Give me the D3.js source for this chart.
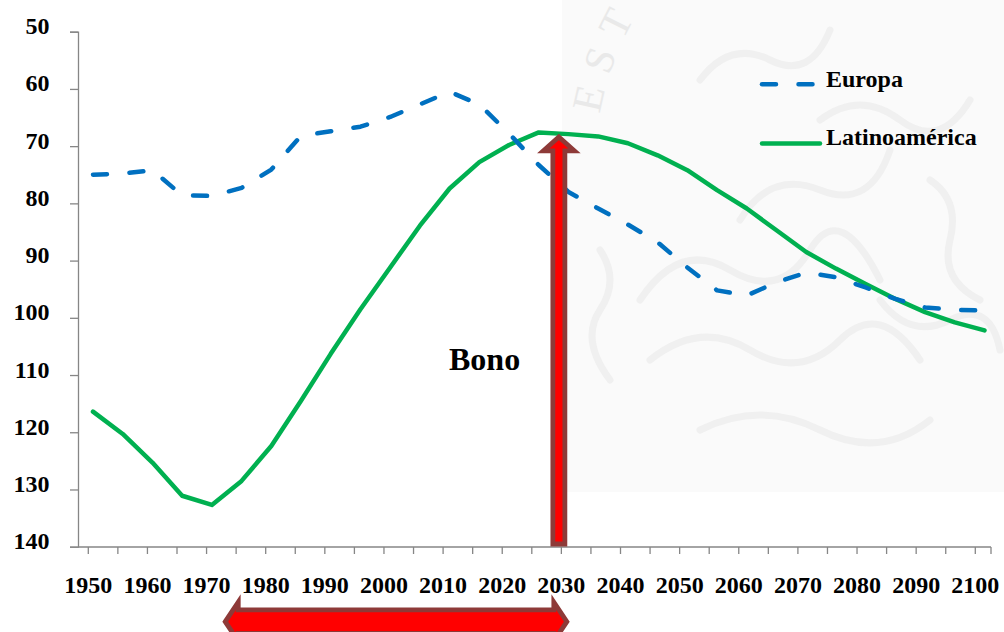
<!DOCTYPE html>
<html>
<head>
<meta charset="utf-8">
<script src="https://cdn.jsdelivr.net/npm/d3@7/dist/d3.min.js"></script>
<style>
  html, body { margin: 0; padding: 0; background: #ffffff; }
  svg { display: block; }
  text.lbl { font-family: "Liberation Serif", "Times New Roman", serif; font-weight: bold; fill: #000; }
</style>
</head>
<body>
<svg id="chart" width="1004" height="632"></svg>
<script>
// ---- data ----
const years = [1950,1955,1960,1965,1970,1975,1980,1985,1990,1995,2000,2005,2010,2015,2020,2025,2030,2035,2040,2045,2050,2055,2060,2065,2070,2075,2080,2085,2090,2095,2100];
const europa = [75.0,74.8,74.2,78.6,78.7,77.3,74.1,68.2,67.4,66.6,64.9,62.7,60.5,62.7,67.8,73.3,78.0,80.9,83.7,86.8,91.2,95.2,96.1,93.8,92.1,92.9,94.7,96.7,98.2,98.6,98.7];
const latinoamerica = [116.4,120.3,125.3,131.1,132.7,128.5,122.4,114.5,106.3,98.5,91.2,83.9,77.4,72.8,69.8,67.6,67.9,68.3,69.5,71.6,74.2,77.7,80.9,84.7,88.5,91.4,94.1,96.7,99.0,100.8,102.2];
const xTickLabels = ["1950","1960","1970","1980","1990","2000","2010","2020","2030","2040","2050","2060","2070","2080","2090","2100"];
const yTickValues = [50,60,70,80,90,100,110,120,130,140];
const seriesNames = ["Europa","Latinoamérica"];
const annotationText = "Bono";
const bonoYear = 2030;
const bonoRange = [1972.6, 2031.5];
const watermarkLetters = ["E","S","T"];

// ---- layout ----
const svg = d3.select("#chart");
const AXIS = "#868686";
const BLUE = "#0070C0";
const GREEN = "#00B050";
const ARROW_FILL = "#FF0000";
const ARROW_EDGE = "#8E3A38";

const y = d3.scaleLinear().domain([50, 140]).range([31.7, 546.7]);
const xData = d3.scaleLinear().domain([1950, 2100]).range([93, 984.5]);
const xAxisS = d3.scaleLinear().domain([1950, 2100]).range([88.3, 975.3]);

// ---- watermark panel ----
const wm = svg.append("g");
wm.append("rect").attr("x", 562).attr("y", 0).attr("width", 442).attr("height", 492).attr("fill", "#fafafa");
const orn = [
  "M 640 300 q 40 -60 90 -30 t 80 -20 t 70 30",
  "M 650 360 q 50 -40 100 -10 t 90 -10 t 80 20",
  "M 700 430 q 60 -30 120 0 t 110 -10",
  "M 740 220 q 30 -50 80 -30 t 70 -40",
  "M 820 120 q 40 -30 80 0 t 70 -20",
  "M 880 300 q 30 40 70 20 t 50 30",
  "M 700 80 q 30 -40 70 -20 t 60 -30",
  "M 600 250 q 20 30 0 60 t 10 70",
  "M 930 180 q 30 20 20 60 t 30 60"
];
wm.selectAll("path.orn").data(orn).enter().append("path")
  .attr("class", "orn").attr("d", d => d)
  .attr("fill", "none").attr("stroke", "#f0f0f0").attr("stroke-width", 7).attr("stroke-linecap", "round");
const wcx = 900, wcy = 168, wr = 305;
wm.selectAll("text.wm").data(watermarkLetters).enter().append("text")
  .attr("class", "wm")
  .attr("transform", (d, i) => {
    const a = (-167.4 + i * 7.2) * Math.PI / 180;
    const px = wcx + wr * Math.cos(a), py = wcy + wr * Math.sin(a);
    return `translate(${px},${py}) rotate(${-167.4 + i * 7.2 + 90})`;
  })
  .attr("text-anchor", "middle")
  .style("font-family", "'Liberation Serif', serif")
  .style("font-size", "42px")
  .style("fill", "#e9e9e9")
  .text(d => d);

// ---- axes ----
const gy = svg.append("g").attr("transform", "translate(78,0)")
  .call(d3.axisLeft(y).tickValues(yTickValues).tickSize(8).tickFormat(""));
gy.selectAll(".tick text").remove();
gy.select(".domain").attr("stroke", AXIS).attr("stroke-width", 1.3);
gy.selectAll(".tick line").attr("stroke", AXIS).attr("stroke-width", 1.3);

svg.append("g").selectAll("text.ylab").data(yTickValues).enter().append("text")
  .attr("class", "ylab lbl")
  .attr("x", 49.5).attr("y", d => y(d) + 2.5)
  .attr("text-anchor", "end").style("font-size", "24px")
  .text(d => d);

const gx = svg.append("g").attr("transform", "translate(0,547)");
gx.append("line").attr("x1", 78).attr("x2", 991).attr("y1", 0).attr("y2", 0)
  .attr("stroke", AXIS).attr("stroke-width", 1.3);
gx.selectAll("line.xt").data(years).enter().append("line")
  .attr("class", "xt")
  .attr("x1", d => xAxisS(d)).attr("x2", d => xAxisS(d))
  .attr("y1", 0).attr("y2", 7).attr("stroke", AXIS).attr("stroke-width", 1.3);
gx.append("line").attr("x1", 991).attr("x2", 991).attr("y1", 0).attr("y2", 7)
  .attr("stroke", AXIS).attr("stroke-width", 1.3);

svg.append("g").selectAll("text.xlab").data(xTickLabels).enter().append("text")
  .attr("class", "xlab lbl")
  .attr("x", d => xAxisS(+d)).attr("y", 593)
  .attr("text-anchor", "middle").style("font-size", "24px")
  .text(d => d);

// ---- lines ----
const line = d3.line().x((d, i) => xData(years[i])).y(d => y(d));
svg.append("path").datum(latinoamerica)
  .attr("d", line).attr("fill", "none").attr("stroke", GREEN)
  .attr("stroke-width", 4.5).attr("stroke-linejoin", "round").attr("stroke-linecap", "round");
svg.append("path").datum(europa)
  .attr("d", line).attr("fill", "none").attr("stroke", BLUE)
  .attr("stroke-width", 4.5).attr("stroke-dasharray", "14,22.5")
  .attr("stroke-linejoin", "round").attr("stroke-linecap", "round");

// ---- legend ----
const lg = svg.append("g");
lg.append("line").attr("x1", 762).attr("x2", 813).attr("y1", 84.3).attr("y2", 84.3)
  .attr("stroke", BLUE).attr("stroke-width", 4.5).attr("stroke-dasharray", "14,22.5").attr("stroke-linecap", "round");
lg.append("text").attr("class", "lbl").attr("x", 826).attr("y", 86.5).style("font-size", "24px").text(seriesNames[0]);
lg.append("line").attr("x1", 762).attr("x2", 820).attr("y1", 143.5).attr("y2", 143.5)
  .attr("stroke", GREEN).attr("stroke-width", 4.5).attr("stroke-linecap", "round");
lg.append("text").attr("class", "lbl").attr("x", 826).attr("y", 145).style("font-size", "24px").text(seriesNames[1]);

// ---- annotations ----
const cx = xAxisS(bonoYear) - 2.5;
const vTip = 137, vBase = 150.8, vBottom = 544, vHead = 15.5, vShaft = 6;
const vArrow = d3.path();
vArrow.moveTo(cx, vTip);
vArrow.lineTo(cx + vHead, vBase);
vArrow.lineTo(cx + vShaft, vBase);
vArrow.lineTo(cx + vShaft, vBottom);
vArrow.lineTo(cx - vShaft, vBottom);
vArrow.lineTo(cx - vShaft, vBase);
vArrow.lineTo(cx - vHead, vBase);
vArrow.closePath();
svg.append("path").attr("d", vArrow.toString())
  .attr("fill", ARROW_FILL).attr("stroke", ARROW_EDGE).attr("stroke-width", 4.8).attr("stroke-linejoin", "miter");

svg.append("text").attr("class", "lbl").attr("x", 449).attr("y", 370).style("font-size", "32px").text(annotationText);

const hy = 621.7, hL = xAxisS(bonoRange[0]) + 3.3, hR = xAxisS(bonoRange[1]) - 3.4;
const hHeadLen = 13, hHead = 19.5, hShaft = 11.8;
const hArrow = d3.path();
hArrow.moveTo(hL, hy);
hArrow.lineTo(hL + hHeadLen, hy - hHead);
hArrow.lineTo(hL + hHeadLen, hy - hShaft);
hArrow.lineTo(hR - hHeadLen, hy - hShaft);
hArrow.lineTo(hR - hHeadLen, hy - hHead);
hArrow.lineTo(hR, hy);
hArrow.lineTo(hR - hHeadLen, hy + hHead);
hArrow.lineTo(hR - hHeadLen, hy + hShaft);
hArrow.lineTo(hL + hHeadLen, hy + hShaft);
hArrow.lineTo(hL + hHeadLen, hy + hHead);
hArrow.closePath();
svg.append("path").attr("d", hArrow.toString())
  .attr("fill", ARROW_FILL).attr("stroke", ARROW_EDGE).attr("stroke-width", 4.8).attr("stroke-linejoin", "miter");
</script>
</body>
</html>
